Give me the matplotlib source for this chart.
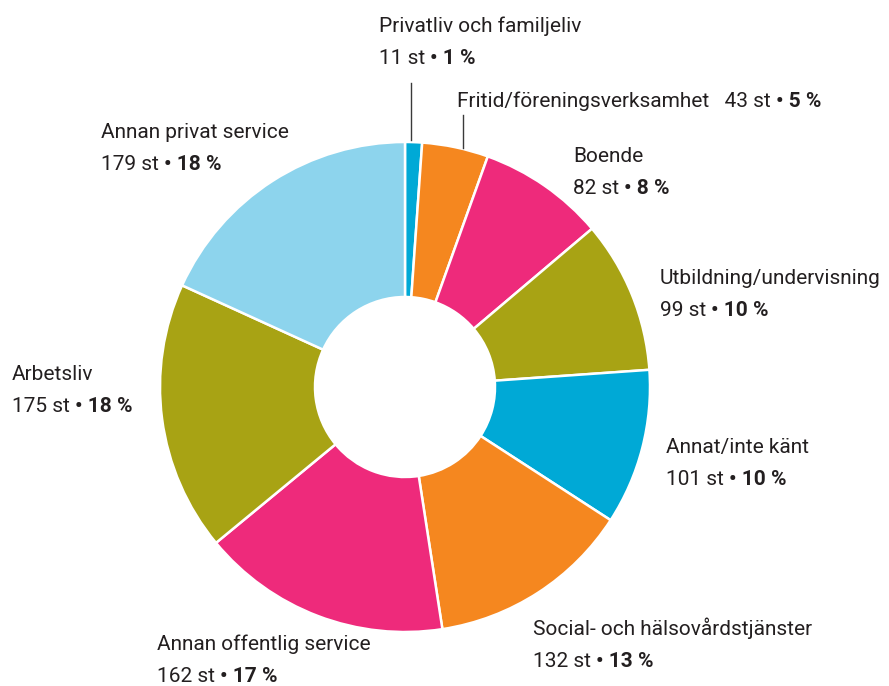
import matplotlib
matplotlib.use("Agg")
import matplotlib.pyplot as plt

# Data (clockwise from top)
categories = ["Privatliv och familjeliv", "Fritid/föreningsverksamhet", "Boende",
              "Utbildning/undervisning", "Annat/inte känt", "Social- och hälsovårdstjänster",
              "Annan offentlig service", "Arbetsliv", "Annan privat service"]
counts = [11, 43, 82, 99, 101, 132, 162, 175, 179]
percents = [1, 5, 8, 10, 10, 13, 17, 18, 18]
colors = ["#00a9d6", "#f5871f", "#ee2a7b", "#a8a314", "#00a9d6",
          "#f5871f", "#ee2a7b", "#a8a314", "#8dd4ed"]

# label anchor (left x, baseline y of first line) in pixels from top-left
label_pos = [(379, 32), (457, 107), (573, 162), (660, 284), (666, 453),
             (533, 635), (157, 650), (12, 380), (101, 138)]

plt.rcParams['font.family'] = ['Roboto', 'DejaVu Sans']
txt_col = "#231f20"
fs = 15
W, H = 889, 686

fig = plt.figure(figsize=(W / 100, H / 100), dpi=100)
ax = fig.add_axes([0, 0, 1, 1])

cx, cy, R = 405, H - 387, 245
ax.pie(counts, colors=colors, startangle=90, counterclock=False,
       center=(cx, cy), radius=R, frame=True,
       wedgeprops=dict(width=155, edgecolor='white', linewidth=1.8))
ax.set_xlim(0, W)
ax.set_ylim(0, H)
ax.set_aspect('equal')
ax.axis('off')

# leader lines for the two small slices
ax.plot([411, 411], [H - 83, H - 140], color="#3a3a3a", lw=1)
ax.plot([463, 463], [H - 115, H - 148], color="#3a3a3a", lw=1)

fig.canvas.draw()
r = fig.canvas.get_renderer()


def two_part(x, y, reg, bold):
    t = ax.text(x, y, reg, fontsize=fs, color=txt_col, va='baseline', ha='left')
    bb = t.get_window_extent(renderer=r)
    ax.text(bb.x1, y, bold, fontsize=fs, color=txt_col, va='baseline', ha='left',
            fontweight='bold')


for i, name in enumerate(categories):
    x, ytop = label_pos[i]
    y = H - ytop
    reg = f"{counts[i]} st "
    bold = f"\u2022 {percents[i]} %"
    if i == 1:
        two_part(x, y, name + "   " + reg, bold)
    else:
        ax.text(x, y, name, fontsize=fs, color=txt_col, va='baseline', ha='left')
        two_part(x, y - 32, reg, bold)

fig.savefig("out.png", dpi=100)
